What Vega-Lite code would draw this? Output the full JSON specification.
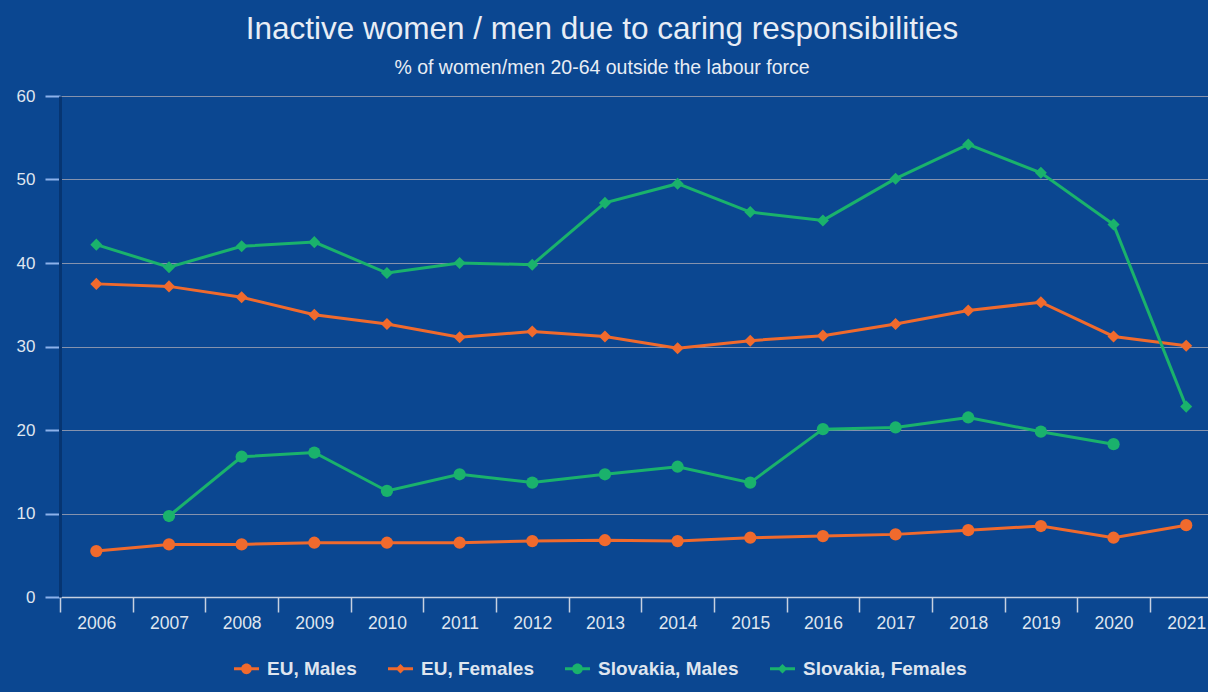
{
  "$schema": "https://vega.github.io/schema/vega-lite/v6.json",
  "width": 1148,
  "height": 501,
  "autosize": "none",
  "padding": {"left": 60, "top": 96, "right": 0, "bottom": 95},
  "background": "#0b4791",
  "title": {
    "text": "Inactive women / men due to caring responsibilities",
    "subtitle": "% of women/men 20-64 outside the labour force",
    "anchor": "middle",
    "frame": "group",
    "dx": -32,
    "offset": 10,
    "font": "Liberation Sans",
    "fontSize": 31.5,
    "fontWeight": "normal",
    "color": "#e8edf5",
    "subtitleFont": "Liberation Sans",
    "subtitleFontSize": 19.5,
    "subtitleColor": "#e8edf5",
    "subtitlePadding": 13
  },
  "config": {
    "view": {"stroke": null},
    "font": "Liberation Sans"
  },
  "data": {
    "values": [
      {"year": 2006, "series": "EU, Males", "value": 5.5},
      {"year": 2007, "series": "EU, Males", "value": 6.3},
      {"year": 2008, "series": "EU, Males", "value": 6.3},
      {"year": 2009, "series": "EU, Males", "value": 6.5},
      {"year": 2010, "series": "EU, Males", "value": 6.5},
      {"year": 2011, "series": "EU, Males", "value": 6.5},
      {"year": 2012, "series": "EU, Males", "value": 6.7},
      {"year": 2013, "series": "EU, Males", "value": 6.8},
      {"year": 2014, "series": "EU, Males", "value": 6.7},
      {"year": 2015, "series": "EU, Males", "value": 7.1},
      {"year": 2016, "series": "EU, Males", "value": 7.3},
      {"year": 2017, "series": "EU, Males", "value": 7.5},
      {"year": 2018, "series": "EU, Males", "value": 8.0},
      {"year": 2019, "series": "EU, Males", "value": 8.5},
      {"year": 2020, "series": "EU, Males", "value": 7.1},
      {"year": 2021, "series": "EU, Males", "value": 8.6},
      {"year": 2006, "series": "EU, Females", "value": 37.5},
      {"year": 2007, "series": "EU, Females", "value": 37.2},
      {"year": 2008, "series": "EU, Females", "value": 35.9},
      {"year": 2009, "series": "EU, Females", "value": 33.8},
      {"year": 2010, "series": "EU, Females", "value": 32.7},
      {"year": 2011, "series": "EU, Females", "value": 31.1},
      {"year": 2012, "series": "EU, Females", "value": 31.8},
      {"year": 2013, "series": "EU, Females", "value": 31.2},
      {"year": 2014, "series": "EU, Females", "value": 29.8},
      {"year": 2015, "series": "EU, Females", "value": 30.7},
      {"year": 2016, "series": "EU, Females", "value": 31.3},
      {"year": 2017, "series": "EU, Females", "value": 32.7},
      {"year": 2018, "series": "EU, Females", "value": 34.3},
      {"year": 2019, "series": "EU, Females", "value": 35.3},
      {"year": 2020, "series": "EU, Females", "value": 31.2},
      {"year": 2021, "series": "EU, Females", "value": 30.1},
      {"year": 2007, "series": "Slovakia, Males", "value": 9.7},
      {"year": 2008, "series": "Slovakia, Males", "value": 16.8},
      {"year": 2009, "series": "Slovakia, Males", "value": 17.3},
      {"year": 2010, "series": "Slovakia, Males", "value": 12.7},
      {"year": 2011, "series": "Slovakia, Males", "value": 14.7},
      {"year": 2012, "series": "Slovakia, Males", "value": 13.7},
      {"year": 2013, "series": "Slovakia, Males", "value": 14.7},
      {"year": 2014, "series": "Slovakia, Males", "value": 15.6},
      {"year": 2015, "series": "Slovakia, Males", "value": 13.7},
      {"year": 2016, "series": "Slovakia, Males", "value": 20.1},
      {"year": 2017, "series": "Slovakia, Males", "value": 20.3},
      {"year": 2018, "series": "Slovakia, Males", "value": 21.5},
      {"year": 2019, "series": "Slovakia, Males", "value": 19.8},
      {"year": 2020, "series": "Slovakia, Males", "value": 18.3},
      {"year": 2006, "series": "Slovakia, Females", "value": 42.2},
      {"year": 2007, "series": "Slovakia, Females", "value": 39.5},
      {"year": 2008, "series": "Slovakia, Females", "value": 42.0},
      {"year": 2009, "series": "Slovakia, Females", "value": 42.5},
      {"year": 2010, "series": "Slovakia, Females", "value": 38.8},
      {"year": 2011, "series": "Slovakia, Females", "value": 40.0},
      {"year": 2012, "series": "Slovakia, Females", "value": 39.8},
      {"year": 2013, "series": "Slovakia, Females", "value": 47.2},
      {"year": 2014, "series": "Slovakia, Females", "value": 49.5},
      {"year": 2015, "series": "Slovakia, Females", "value": 46.1},
      {"year": 2016, "series": "Slovakia, Females", "value": 45.1},
      {"year": 2017, "series": "Slovakia, Females", "value": 50.1},
      {"year": 2018, "series": "Slovakia, Females", "value": 54.2},
      {"year": 2019, "series": "Slovakia, Females", "value": 50.8},
      {"year": 2020, "series": "Slovakia, Females", "value": 44.6},
      {"year": 2021, "series": "Slovakia, Females", "value": 22.8}
    ]
  },
  "encoding": {
    "x": {
      "field": "year",
      "type": "quantitative",
      "scale": {"domain": [2005.5, 2021.3], "nice": false, "zero": false},
      "axis": {
        "title": null,
        "values": [2006, 2007, 2008, 2009, 2010, 2011, 2012, 2013, 2014, 2015, 2016, 2017, 2018, 2019, 2020, 2021],
        "format": "d",
        "grid": false,
        "tickOffset": -36.3,
        "labelOffset": 36.3,
        "tickSize": 15,
        "tickWidth": 1.5,
        "tickColor": "#c6d0e0",
        "domainColor": "#c6d0e0",
        "domainWidth": 1.5,
        "labelPadding": 2,
        "labelFont": "Liberation Sans",
        "labelFontSize": 17.5,
        "labelColor": "#dfe5ef",
        "labelFlush": false,
        "labelOverlap": false
      }
    },
    "y": {
      "field": "value",
      "type": "quantitative",
      "scale": {"domain": [0, 60], "nice": false},
      "axis": {
        "title": null,
        "values": [0, 10, 20, 30, 40, 50, 60],
        "grid": true,
        "gridColor": "#8592ad",
        "gridWidth": 1,
        "tickSize": 15,
        "tickWidth": 2,
        "tickColor": "#8db2ea",
        "domainColor": "#063572",
        "domainWidth": 3,
        "labelPadding": 10,
        "labelFont": "Liberation Sans",
        "labelFontSize": 17,
        "labelColor": "#dfe5ef"
      }
    },
    "color": {
      "field": "series",
      "type": "nominal",
      "scale": {
        "domain": ["EU, Males", "EU, Females", "Slovakia, Males", "Slovakia, Females"],
        "range": ["#f06a2d", "#f06a2d", "#1ab26c", "#1ab26c"]
      },
      "legend": {
        "title": null,
        "orient": "none",
        "legendX": 174,
        "legendY": 560,
        "direction": "horizontal",
        "columnPadding": 31,
        "labelOffset": 8,
        "labelLimit": 400,
        "symbolSize": 625,
        "symbolType": {"expr": "indexof(datum.value, 'Females') >= 0 ? 'M-1,-0.12H1V0.12H-1Z M0,-0.38L0.38,0L0,0.38L-0.38,0Z' : 'M-1,-0.12H1V0.12H-1Z M-0.43,0A0.43,0.43 0 1,1 0.43,0A0.43,0.43 0 1,1 -0.43,0Z'"},
        "symbolStrokeWidth": 0,
        "symbolOpacity": 1,
        "labelFont": "Liberation Sans",
        "labelFontSize": 19,
        "labelFontWeight": "bold",
        "labelColor": "#dfe5ef"
      }
    }
  },
  "layer": [
    {
      "mark": {"type": "line", "strokeWidth": 3},
      "encoding": {}
    },
    {
      "transform": [{"filter": "indexof(datum.series, 'Males') >= 0 && indexof(datum.series, 'Females') < 0"}],
      "mark": {"type": "point", "filled": true, "opacity": 1, "shape": "circle", "size": 150},
      "encoding": {}
    },
    {
      "transform": [{"filter": "indexof(datum.series, 'Females') >= 0"}],
      "mark": {"type": "point", "filled": true, "opacity": 1, "shape": "diamond", "size": 145},
      "encoding": {}
    }
  ]
}
